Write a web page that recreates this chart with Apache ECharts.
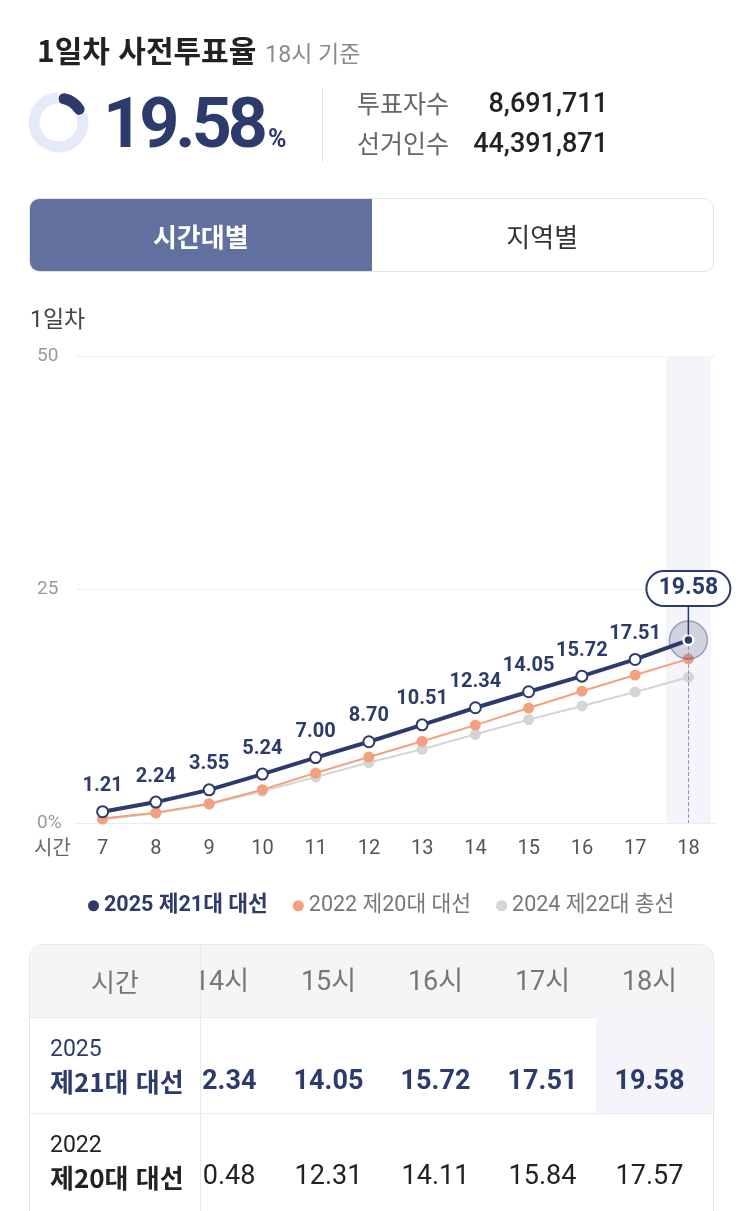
<!DOCTYPE html>
<html lang="ko">
<head>
<meta charset="utf-8">
<script src="https://cdn.jsdelivr.net/npm/echarts@6/dist/echarts.min.js"></script>
<style>
html, body { margin: 0; padding: 0; background: #fff; width: 743px; height: 1211px; overflow: hidden;
  font-family: Roboto, "Noto Sans CJK KR", "Noto Sans", sans-serif; }
#chart { position: absolute; left: 0; top: 0; width: 743px; height: 1211px; }
.abs { position: absolute; white-space: nowrap; line-height: 1; }
.kr { font-family: "Noto Sans CJK KR", "Noto Sans", sans-serif; }
.title { left: 37px; top: 34px; font-size: 30px; font-weight: 700; color: #222; }
.title span { font-family: Roboto, "Noto Sans CJK KR", sans-serif; font-size: 23px; font-weight: 400; color: #8a8a8a; margin-left: 9px; }
.big { left: 103px; top: 88px; font-size: 70px; font-weight: 700; color: #2d3b6c; letter-spacing: -4px; }
.big span { font-size: 25px; letter-spacing: 0; margin-left: 4px; }
.divider { left: 322px; top: 88px; width: 1px; height: 74px; background: #e6e6e6; }
.statLabel { left: 357px; font-size: 25px; color: #666; }
.statValue { right: 135px; font-size: 27px; font-weight: 500; color: #222; }
.tabs { position: absolute; left: 29px; top: 198px; width: 683px; height: 72px; border: 1px solid #e3e3e3;
  border-radius: 10px; overflow: hidden; display: flex; font-family: "Noto Sans CJK KR", sans-serif; }
.tab { flex: 1; display: flex; align-items: center; justify-content: center; font-size: 26px; color: #333; }
.tab.on { background: #61709e; color: #fff; font-weight: 700; }
.sub { left: 30px; top: 308px; font-size: 23px; color: #444; }
.xname { left: 34px; top: 837px; font-size: 20px; color: #666; }
.table { position: absolute; left: 29px; top: 944px; width: 683px; height: 400px; border: 1px solid #e6e6e6;
  border-radius: 14px; overflow: hidden; }
.head { position: absolute; left: 0; top: 0; width: 100%; height: 72px; background: #f5f5f7; border-bottom: 1px solid #ececec; }
.row1 { position: absolute; left: 0; top: 72px; width: 100%; height: 96px; border-bottom: 1px solid #ececec; }
.row2 { position: absolute; left: 0; top: 168px; width: 100%; height: 99px; border-bottom: 1px solid #ececec; }
.leftcol { position: absolute; left: 0; top: 0; width: 170px; height: 100%; border-right: 1px solid #e8e8e8; z-index: 2; }
.cell { position: absolute; left: 0; width: 100%; box-sizing: border-box; }
.scroller { position: absolute; left: 171px; top: 0; right: 0; height: 100%; overflow: hidden; }
.inner { position: absolute; right: 0; top: 0; display: flex; height: 100%; }
.col { width: 107px; position: relative; height: 100%; }
.col.last { width: 117px; }
.col div { position: absolute; left: 0; width: 107px; text-align: center; }
</style>
</head>
<body>
<div id="chart"></div>

<div class="abs title kr">1일차 사전투표율<span>18시 기준</span></div>
<div class="abs big" id="big"></div>
<div class="abs divider"></div>
<div class="abs statLabel kr" style="top:90px">투표자수</div>
<div class="abs statValue" style="top:90px" id="voters"></div>
<div class="abs statLabel kr" style="top:130px">선거인수</div>
<div class="abs statValue" style="top:130px" id="electorate"></div>

<div class="tabs"><div class="tab on">시간대별</div><div class="tab">지역별</div></div>

<div class="abs sub">1일차</div>
<div class="abs xname kr">시간</div>

<div class="table">
  <div class="head"></div>
  <div class="row1"></div>
  <div class="row2"></div>
  <div class="leftcol">
    <div class="cell kr" style="top:0;height:72px;line-height:72px;text-align:center;font-size:26px;color:#777">시간</div>
    <div class="cell" style="top:72px;padding:17px 0 0 20px;color:#2d3b6c">
      <div style="font-size:23px;line-height:29px">2025</div>
      <div class="kr" style="font-size:26px;font-weight:700;line-height:36px">제21대 대선</div>
    </div>
    <div class="cell" style="top:168px;padding:17px 0 0 20px;color:#222">
      <div style="font-size:23px;line-height:29px">2022</div>
      <div class="kr" style="font-size:26px;font-weight:700;line-height:36px">제20대 대선</div>
    </div>
  </div>
  <div class="scroller"><div class="inner" id="cols"></div></div>
</div>

<script>
// 시간대별 누적 사전투표율 (%)
var hours = ['7', '8', '9', '10', '11', '12', '13', '14', '15', '16', '17', '18'];
var turnout2025 = [1.21, 2.24, 3.55, 5.24, 7.00, 8.70, 10.51, 12.34, 14.05, 15.72, 17.51, 19.58];
var turnout2022 = [0.47, 1.11, 2.07, 3.57, 5.35, 7.07, 8.75, 10.48, 12.31, 14.11, 15.84, 17.57];
var turnout2024 = [0.40, 1.05, 2.00, 3.40, 4.93, 6.47, 7.89, 9.50, 11.07, 12.53, 14.03, 15.61];
var seriesNames = ['2025 제21대 대선', '2022 제20대 대선', '2024 제22대 총선'];
var yTicks = [0, 25, 50];
var voters = 8691711;
var electorate = 44391871;

var navy = '#2d3b6c', orange = '#f59f7f', grey = '#d5d5d5';
var last = hours.length - 1;
var lastValue = turnout2025[last];
var font = 'Roboto, "Noto Sans CJK KR", "Noto Sans", sans-serif';

document.getElementById('big').innerHTML = lastValue.toFixed(2) + '<span>%</span>';
document.getElementById('voters').textContent = voters.toLocaleString('en-US');
document.getElementById('electorate').textContent = electorate.toLocaleString('en-US');

// 표 (가로 스크롤된 상태)
var colsHtml = '';
hours.forEach(function(h, i) {
	var cls = i === last ? 'col last' : 'col';
	var bg = i === last ? 'background:#f4f4fa;width:117px;text-indent:-10px;' : '';
	colsHtml += '<div class="' + cls + '">' +
		'<div style="top:0;height:72px;line-height:72px;font-size:27px;color:#777">' + h + '시</div>' +
		'<div style="top:72px;height:96px;line-height:126px;font-size:27px;font-weight:700;color:' + navy + ';' + bg + '">' + turnout2025[i].toFixed(2) + '</div>' +
		'<div style="top:168px;height:99px;line-height:124px;font-size:27px;color:#222">' + turnout2022[i].toFixed(2) + '</div>' +
		'</div>';
});
document.getElementById('cols').innerHTML = colsHtml;

var myChart = echarts.init(document.getElementById('chart'));
var option = {
	animation: false,
	textStyle: { fontFamily: font },
	grid: { left: 76, right: 28, top: 356, bottom: 388 },
	legend: {
		top: 890,
		left: 83,
		itemGap: 25,
		icon: 'circle',
		itemWidth: 11,
		itemHeight: 11,
		textStyle: { fontSize: 21.5, color: '#777', fontFamily: font },
		data: [
			{ name: seriesNames[0], itemStyle: { color: navy }, textStyle: { color: navy, fontWeight: 'bold' } },
			{ name: seriesNames[1], itemStyle: { color: orange } },
			{ name: seriesNames[2], itemStyle: { color: grey } }
		]
	},
	xAxis: {
		type: 'category',
		data: hours,
		axisLine: { lineStyle: { color: '#ececec' } },
		axisTick: { show: false },
		axisLabel: { color: '#555', fontSize: 20, margin: 16 }
	},
	yAxis: {
		type: 'value',
		min: yTicks[0],
		max: yTicks[yTicks.length - 1],
		interval: yTicks[1] - yTicks[0],
		splitLine: { lineStyle: { color: '#efefef' } },
		axisLabel: {
			color: '#9a9a9a', fontSize: 19, align: 'left', margin: 39,
			formatter: function(v) { return v === 0 ? '0%' : v; }
		}
	},
	series: [
		{
			// 18시 강조 영역
			type: 'bar',
			silent: true,
			barWidth: 45,
			z: 0,
			itemStyle: { color: '#f4f4fa' },
			data: hours.map(function(h, i) { return i === last ? yTicks[yTicks.length - 1] : null; })
		},
		{
			name: seriesNames[2],
			type: 'line',
			z: 2,
			symbol: 'circle',
			symbolSize: 11,
			itemStyle: { color: grey },
			lineStyle: { color: grey, width: 2 },
			data: turnout2024,
			markLine: {
				silent: true,
				symbol: ['none', 'none'],
				label: { show: false },
				lineStyle: { type: 'dashed', color: '#8e91c6', width: 1 },
				data: [[{ coord: [hours[last], lastValue] }, { coord: [hours[last], 0] }]]
			}
		},
		{
			name: seriesNames[1],
			type: 'line',
			z: 3,
			symbol: 'circle',
			symbolSize: 11,
			itemStyle: { color: orange },
			lineStyle: { color: orange, width: 2 },
			data: turnout2022
		},
		{
			// 마지막 지점 후광
			type: 'scatter',
			silent: true,
			z: 4,
			symbolSize: 38,
			itemStyle: { color: 'rgba(45,59,108,0.22)', borderColor: 'rgba(45,59,108,0.5)', borderWidth: 1.5 },
			data: [[hours[last], lastValue]]
		},
		{
			name: seriesNames[0],
			type: 'line',
			z: 5,
			symbol: 'emptyCircle',
			symbolSize: 11,
			itemStyle: { color: navy, borderWidth: 2.5 },
			lineStyle: { color: navy, width: 4 },
			label: {
				show: true,
				position: 'top',
				distance: 9,
				color: navy,
				fontSize: 20,
				fontWeight: 'bold',
				formatter: function(p) { return p.dataIndex === last ? '' : p.value.toFixed(2); }
			},
			data: turnout2025.map(function(v, i) {
				if (i !== last) return v;
				return { value: v, symbol: 'circle', symbolSize: 10, itemStyle: { color: navy, borderColor: '#fff', borderWidth: 2.5 } };
			})
		},
		{
			// 상단 도넛
			type: 'pie',
			silent: true,
			center: [58.5, 122.5],
			radius: [19, 30],
			startAngle: 90,
			label: { show: false },
			data: [
				{ value: lastValue, itemStyle: { color: navy, borderRadius: 6 } },
				{ value: 100 - lastValue, itemStyle: { color: '#e6e9f8' } }
			]
		}
	]
};
myChart.setOption(option);

// 마지막 값 말풍선
var p = myChart.convertToPixel({ xAxisIndex: 0, yAxisIndex: 0 }, [hours[last], lastValue]);
myChart.setOption({
	graphic: [
		{ type: 'line', z: 10, shape: { x1: p[0], y1: p[1] - 34, x2: p[0], y2: p[1] - 5 }, style: { stroke: navy, lineWidth: 1.5 } },
		{ type: 'rect', z: 10, shape: { x: p[0] - 42, y: p[1] - 69, width: 84, height: 35, r: 17.5 }, style: { fill: '#fff', stroke: navy, lineWidth: 2 } },
		{ type: 'text', z: 11, x: p[0], y: p[1] - 51.5, style: { text: lastValue.toFixed(2), fill: navy, font: 'bold 23px ' + font, align: 'center', verticalAlign: 'middle' } }
	]
});
</script>
</body>
</html>
